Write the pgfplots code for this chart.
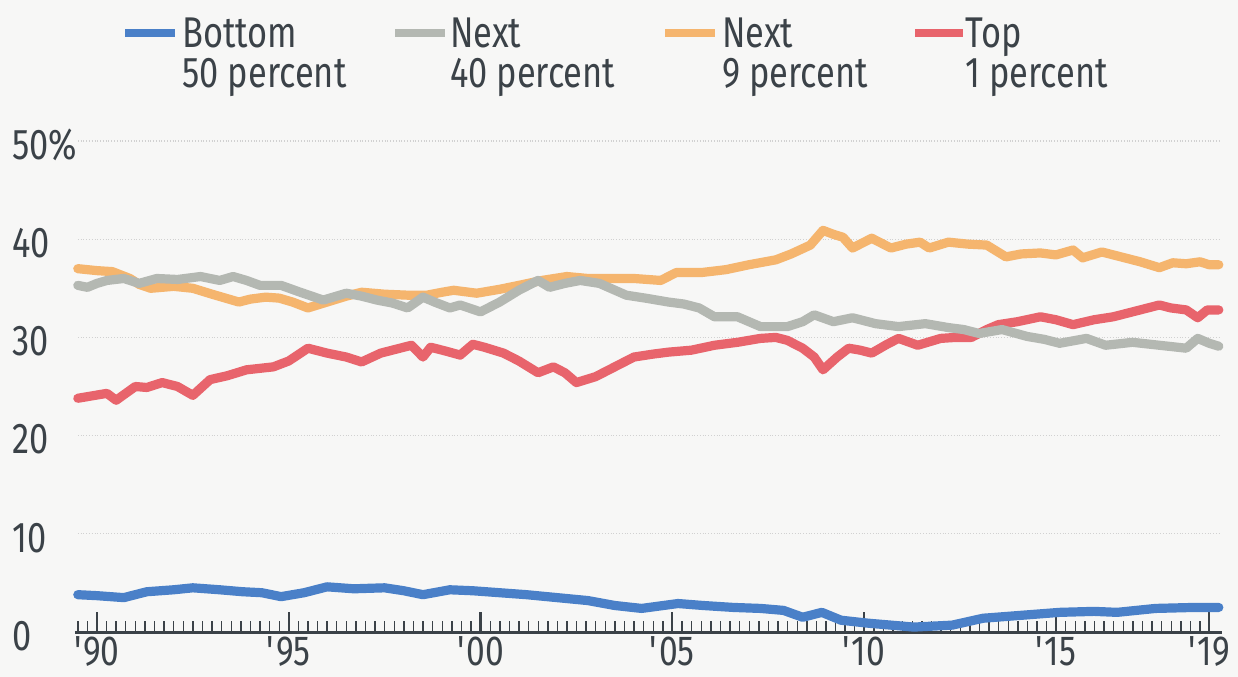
\documentclass[border=0pt]{standalone}
\usepackage{fontspec}
\setmainfont{Fira Sans}[FakeStretch=0.8]
\usepackage{pgfplots}
\pgfplotsset{compat=1.18}
\definecolor{bg}{HTML}{F7F7F6}
\definecolor{txt}{HTML}{3B4248}
\definecolor{cblue}{HTML}{4A80C8}
\definecolor{cgray}{HTML}{B4B8B2}
\definecolor{corange}{HTML}{F5B56E}
\definecolor{cred}{HTML}{E8646C}
\begin{document}
\begin{tikzpicture}[font=\fontsize{21.5bp}{26bp}\selectfont]
\fill[bg] (-38.9bp,-22.5bp) rectangle (580.1bp,316bp);
\begin{axis}[
  at={(0,0)}, anchor=south west,
  scale only axis, width=570.5bp, height=245.5bp,
  xmin=1989.5, xmax=2019.25, ymin=0, ymax=50,
  clip=false,
  axis x line*=bottom, axis y line*=left,
  x axis line style={txt, line width=1.5bp, shorten <=-1.5bp, shorten >=-1.5bp},
  y axis line style={draw=none},
  tick align=inside,
  xtick={1990,1995,2000,2005,2010,2015,2019},
  xticklabels={\textquotesingle90,\textquotesingle95,\textquotesingle00,\textquotesingle05,\textquotesingle10,\textquotesingle15,\textquotesingle19},
  minor xtick={1989.5,1989.75,...,2019.3},
  major tick length=10bp, minor tick length=5.5bp,
  xtick style={txt, line width=1.1bp},
  minor x tick style={txt, line width=0.7bp},
  ytick={0,10,20,30,40,50},
  yticklabels={0,10,20,30,40,50\%},
  ytick style={draw=none},
  ymajorgrids,
  y grid style={densely dotted, black!18, line width=0.6bp},
  /pgf/number format/assume math mode=true,
  ticklabel style={txt, font=\fontsize{21.5bp}{26bp}\selectfont},
  yticklabel style={anchor=west, inner sep=0pt, xshift=-33bp, yshift=-2bp},
  xticklabel style={anchor=north, inner sep=0pt, yshift=-2bp, font=\fontsize{21bp}{25bp}\selectfont},
  every axis plot/.append style={line width=4.6bp, line join=round, line cap=round},
]
\addplot[cblue] coordinates {
(1989.5,3.8)(1990.0,3.7)(1990.7,3.5)(1991.3,4.1)(1992.0,4.3)(1992.5,4.5)(1993.2,4.3)(1993.8,4.1)(1994.3,4.0)(1994.8,3.6)(1995.4,4.0)(1996.0,4.6)(1996.7,4.4)(1997.5,4.5)(1998.0,4.2)(1998.5,3.8)(1999.2,4.3)(1999.8,4.2)(2000.5,4.0)(2001.2,3.8)(2002.0,3.5)(2002.8,3.2)(2003.5,2.7)(2004.2,2.4)(2005.15,2.9)(2005.8,2.7)(2006.6,2.5)(2007.3,2.4)(2007.9,2.2)(2008.4,1.5)(2008.9,2.0)(2009.4,1.2)(2010.1,0.9)(2010.7,0.7)(2011.3,0.5)(2012.3,0.7)(2013.1,1.4)(2014.1,1.7)(2015.1,2.0)(2016.0,2.1)(2016.6,2.0)(2017.6,2.4)(2018.6,2.5)(2019.25,2.5)
};
\addplot[corange] coordinates {
(1989.5,37.0)(1989.75,36.9)(1990.0,36.8)(1990.4,36.7)(1990.86,36.0)(1991.1,35.4)(1991.4,35.0)(1992.0,35.2)(1992.5,35.0)(1993.0,34.4)(1993.7,33.6)(1994.0,33.9)(1994.4,34.1)(1994.75,34.0)(1995.1,33.6)(1995.5,33.0)(1996.0,33.6)(1996.5,34.2)(1996.9,34.6)(1997.5,34.4)(1998.1,34.3)(1998.6,34.3)(1999.0,34.6)(1999.3,34.8)(1999.9,34.5)(2000.5,34.9)(2001.0,35.3)(2001.6,35.8)(2002.25,36.2)(2002.8,36.0)(2003.4,36.0)(2004.0,36.0)(2004.7,35.8)(2005.1,36.6)(2005.75,36.6)(2006.4,36.9)(2007.0,37.4)(2007.7,37.9)(2008.1,38.5)(2008.6,39.4)(2008.93,40.9)(2009.2,40.5)(2009.45,40.2)(2009.7,39.1)(2010.2,40.1)(2010.7,39.1)(2011.1,39.5)(2011.46,39.7)(2011.7,39.1)(2012.2,39.7)(2012.7,39.5)(2013.2,39.4)(2013.7,38.2)(2014.1,38.5)(2014.6,38.6)(2015.0,38.4)(2015.45,38.9)(2015.7,38.1)(2016.2,38.7)(2016.7,38.2)(2017.2,37.7)(2017.7,37.1)(2018.05,37.6)(2018.4,37.5)(2018.76,37.7)(2019.0,37.4)(2019.25,37.4)
};
\addplot[cred] coordinates {
(1989.5,23.8)(1989.8,24.0)(1990.26,24.3)(1990.5,23.6)(1991.0,25.0)(1991.3,24.9)(1991.7,25.4)(1992.1,25.0)(1992.5,24.1)(1992.95,25.7)(1993.4,26.1)(1993.9,26.7)(1994.6,27.0)(1995.0,27.6)(1995.5,28.9)(1996.0,28.4)(1996.5,28.0)(1996.9,27.5)(1997.4,28.4)(1997.8,28.8)(1998.2,29.2)(1998.5,28.0)(1998.7,29.0)(1999.1,28.6)(1999.47,28.2)(1999.8,29.3)(2000.1,29.0)(2000.6,28.4)(2001.0,27.6)(2001.5,26.4)(2001.9,27.0)(2002.2,26.4)(2002.5,25.4)(2003.0,26.0)(2003.5,27.0)(2004.0,28.0)(2004.5,28.3)(2004.9,28.5)(2005.5,28.7)(2006.1,29.2)(2006.7,29.5)(2007.3,29.9)(2007.7,30.0)(2008.0,29.7)(2008.4,28.9)(2008.7,28.0)(2008.93,26.7)(2009.3,28.0)(2009.6,28.9)(2009.9,28.7)(2010.2,28.4)(2010.6,29.3)(2010.9,29.9)(2011.4,29.2)(2012.0,29.9)(2012.4,30.0)(2012.8,30.0)(2013.2,30.8)(2013.5,31.3)(2014.0,31.6)(2014.6,32.1)(2015.0,31.8)(2015.45,31.3)(2016.0,31.8)(2016.5,32.1)(2017.2,32.8)(2017.7,33.3)(2018.0,33.0)(2018.4,32.8)(2018.7,32.0)(2018.95,32.8)(2019.25,32.8)
};
\addplot[cgray] coordinates {
(1989.5,35.3)(1989.75,35.1)(1990.0,35.5)(1990.26,35.8)(1990.7,36.0)(1991.1,35.5)(1991.56,36.0)(1992.1,35.9)(1992.7,36.2)(1993.2,35.8)(1993.55,36.2)(1993.9,35.8)(1994.25,35.3)(1994.8,35.3)(1995.3,34.6)(1995.9,33.8)(1996.5,34.5)(1996.9,34.2)(1997.3,33.8)(1997.7,33.5)(1998.1,33.0)(1998.5,34.1)(1998.8,33.6)(1999.2,33.0)(1999.47,33.3)(2000.0,32.6)(2000.5,33.6)(2001.0,34.8)(2001.5,35.8)(2001.8,35.1)(2002.2,35.5)(2002.6,35.8)(2003.1,35.5)(2003.8,34.3)(2004.3,34.0)(2004.9,33.6)(2005.3,33.4)(2005.7,33.0)(2006.1,32.1)(2006.7,32.1)(2007.3,31.1)(2007.7,31.1)(2008.0,31.1)(2008.4,31.6)(2008.7,32.3)(2009.2,31.6)(2009.7,32.0)(2010.3,31.4)(2010.9,31.1)(2011.6,31.4)(2012.2,31.0)(2012.6,30.8)(2013.0,30.4)(2013.6,30.8)(2014.25,30.1)(2014.7,29.8)(2015.1,29.4)(2015.8,29.9)(2016.3,29.2)(2017.0,29.5)(2017.7,29.2)(2018.4,28.9)(2018.7,29.9)(2019.0,29.4)(2019.25,29.1)
};
\end{axis}
% legend
\draw[cblue, line width=4bp] (23.6bp,299.5bp) -- (48.6bp,299.5bp);
\node[anchor=base west, inner sep=0pt, txt] at (52.1bp,292bp) {Bottom};
\node[anchor=base west, inner sep=0pt, txt] at (52.1bp,272bp) {50 percent};
\draw[cgray, line width=4bp] (158.6bp,299.5bp) -- (183.6bp,299.5bp);
\node[anchor=base west, inner sep=0pt, txt] at (186bp,292bp) {Next};
\node[anchor=base west, inner sep=0pt, txt] at (186bp,272bp) {40 percent};
\draw[corange, line width=4bp] (293.6bp,299.5bp) -- (318.6bp,299.5bp);
\node[anchor=base west, inner sep=0pt, txt] at (322bp,292bp) {Next};
\node[anchor=base west, inner sep=0pt, txt] at (322bp,272bp) {9 percent};
\draw[cred, line width=4bp] (418.6bp,299.5bp) -- (442.6bp,299.5bp);
\node[anchor=base west, inner sep=0pt, txt] at (443.6bp,292bp) {Top};
\node[anchor=base west, inner sep=0pt, txt] at (443.6bp,272bp) {1 percent};
\pgfresetboundingbox
\path[use as bounding box] (-38.9bp,-22.5bp) rectangle (580.1bp,316bp);
\end{tikzpicture}
\end{document}
